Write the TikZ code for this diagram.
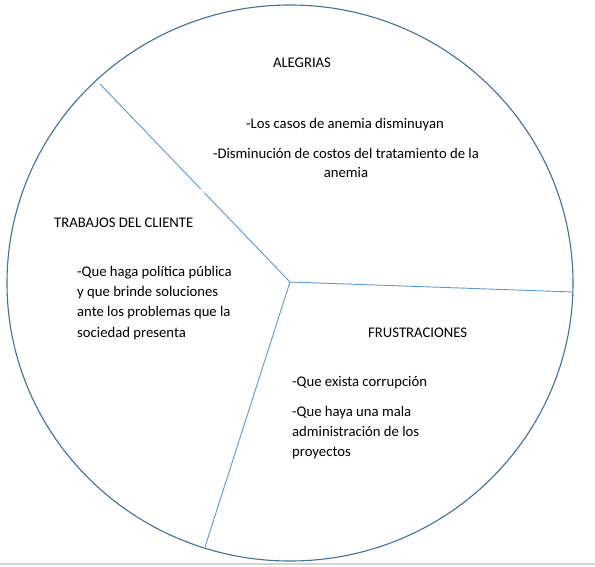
\documentclass[tikz,border=0pt]{standalone}
\usepackage{fontspec}
\setmainfont{Carlito}
\definecolor{rim}{HTML}{41719C}
\definecolor{spoke}{HTML}{5B9BD5}
\definecolor{pagegray}{HTML}{D4D4D4}
\begin{document}
\begin{tikzpicture}[x=1pt,y=-1pt,
  rimline/.style={draw=rim,line width=1.1pt},
  spokeline/.style={draw=spoke,line width=0.9pt},
  label/.style={inner sep=0pt,font=\fontsize{14.7}{20.3}\selectfont},
  block/.style={label,align=left,anchor=base west},
  cblock/.style={label,align=center,anchor=base}]
\useasboundingbox (0,0) rectangle (595,566);
\fill[white] (0,0) rectangle (595,566);
\draw[pagegray,line width=2pt] (0,563.5) -- (595,563.5);
\coordinate (c) at (290,282);
\draw[rimline] (290,283) ellipse [x radius=283, y radius=278];
\coordinate (e1) at (100,84);
\coordinate (e2) at (573,292);
\coordinate (e3) at (205,547);
\draw[spokeline] (c) -- (e1);
\draw[spokeline] (c) -- (e2);
\draw[spokeline] (c) -- (e3);
% small breaks seen in the reference lines
\draw[white,line width=2pt] (200.5,189.5) -- (204,193.5);
\draw[white,line width=2.5pt] (456,505) -- (460.5,502);
% texts (base anchor of a multi-line node is the baseline of its last line)
\node[cblock] (alegrias) at (302,67) {ALEGRIAS};
\node[cblock] (al1) at (345,128) {-Los casos de anemia disminuyan};
\node[cblock,font=\fontsize{14.7}{19.5}\selectfont] (al2) at (346,177.5) {-Disminución de costos del tratamiento de la\\anemia};
\node[block] (trab) at (54,227) {TRABAJOS DEL CLIENTE};
\node[block] (tr1) at (77,337) {-Que haga política pública\\y que brinde soluciones\\ante los problemas que la\\sociedad presenta};
\node[block] (frus) at (368,337) {FRUSTRACIONES};
\node[block] (fr1) at (292,386) {-Que exista corrupción};
\node[block] (fr2) at (292,456.6) {-Que haya una mala\\administración de los\\proyectos};
\end{tikzpicture}
\end{document}
